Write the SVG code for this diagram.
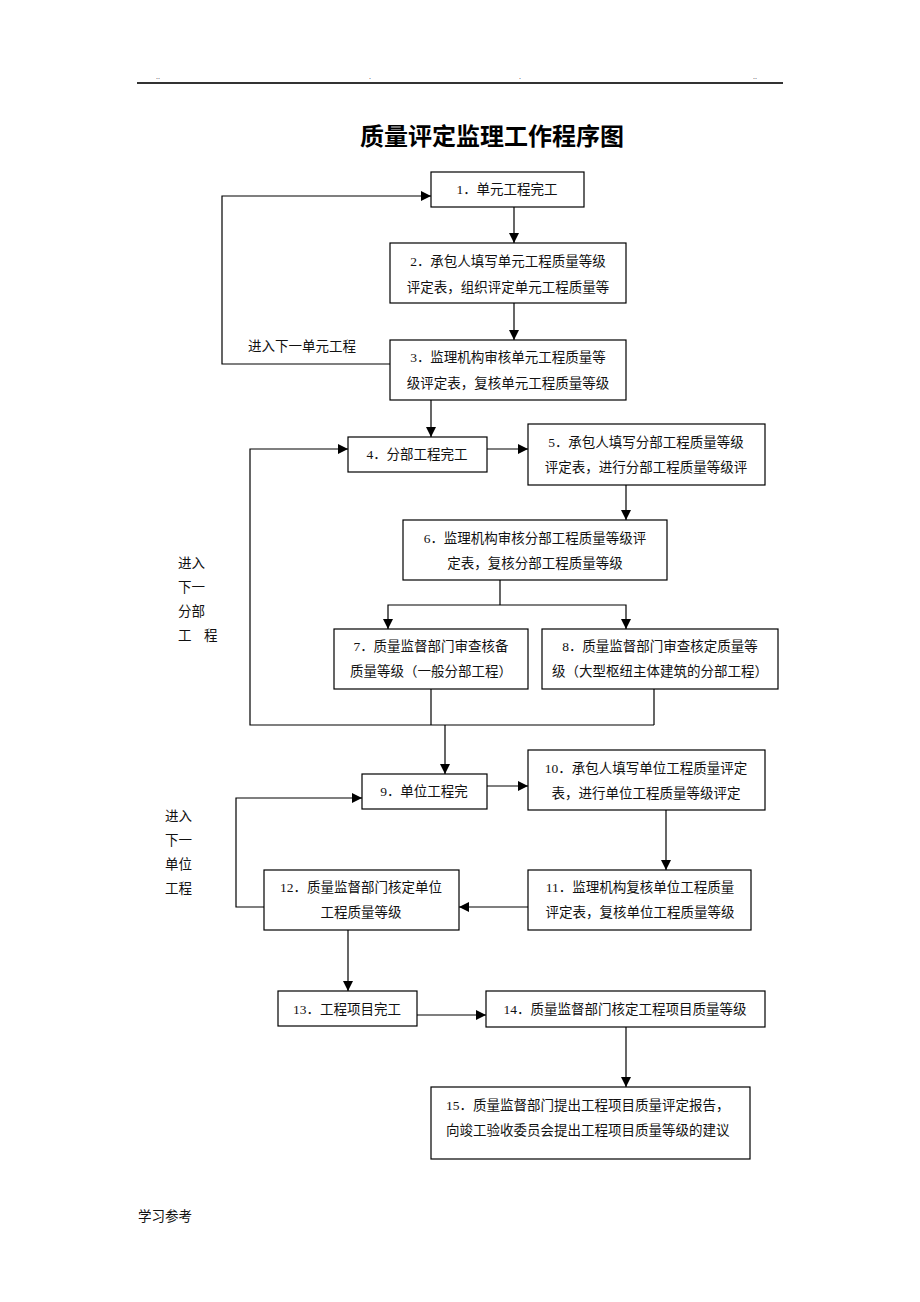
<svg xmlns="http://www.w3.org/2000/svg" width="920" height="1302" viewBox="0 0 920 1302">
<style>
.box{fill:#fff;stroke:#000;stroke-width:1.2}
.t{font-family:"Liberation Serif","Noto Sans CJK SC",serif;font-size:13.5px;fill:#111}
.c{text-anchor:middle}
.ln{fill:none;stroke:#000;stroke-width:1.2}
.ar{fill:none;stroke:#000;stroke-width:1.2;marker-end:url(#ah)}
.hd{font-family:"Liberation Serif",serif;font-size:8px;fill:#333}
</style>
<defs>
<marker id="ah" markerUnits="userSpaceOnUse" markerWidth="12" markerHeight="12" refX="10" refY="5" orient="auto">
<path d="M0,0 L10,5 L0,10 z" fill="#000"/>
</marker>
</defs>
<rect width="920" height="1302" fill="#fff"/>
<g id="header">
<line x1="137" y1="83" x2="783" y2="83" stroke="#333" stroke-width="2"/>
<text class="hd" x="156" y="79">..</text>
<text class="hd" x="369" y="79">.</text>
<text class="hd" x="519" y="79">.</text>
<text class="hd" x="753" y="79">..</text>
</g>
<text x="492" y="145" text-anchor="middle" font-family="'Noto Sans CJK SC',sans-serif" font-size="24" font-weight="bold" fill="#000">质量评定监理工作程序图</text>
<g id="connectors">
<line class="ar" x1="514" y1="207" x2="514" y2="243"/>
<line class="ar" x1="514" y1="303" x2="514" y2="340"/>
<polyline class="ar" points="390,364 222,364 222,196 431,196"/>
<line class="ar" x1="431" y1="400" x2="431" y2="437"/>
<line class="ar" x1="487" y1="449" x2="528" y2="449"/>
<line class="ar" x1="626" y1="485" x2="626" y2="520"/>
<line class="ln" x1="500" y1="580" x2="500" y2="605"/>
<polyline class="ar" points="500,605 388,605 388,629"/>
<polyline class="ar" points="500,605 626,605 626,629"/>
<line class="ln" x1="431" y1="689" x2="431" y2="725"/>
<line class="ln" x1="654" y1="689" x2="654" y2="725"/>
<polyline class="ar" points="654,725 250,725 250,449 348,449"/>
<line class="ar" x1="445" y1="725" x2="445" y2="774"/>
<line class="ar" x1="487" y1="786" x2="528" y2="786"/>
<line class="ar" x1="666" y1="810" x2="666" y2="870"/>
<line class="ar" x1="528" y1="907" x2="459" y2="907"/>
<polyline class="ar" points="264,907 236,907 236,798 362,798"/>
<line class="ar" x1="348" y1="930" x2="348" y2="991"/>
<line class="ar" x1="417" y1="1015" x2="486" y2="1015"/>
<line class="ar" x1="626" y1="1027" x2="626" y2="1087"/>
</g>
<g id="labels">
<text class="t" x="248" y="351">进入下一单元工程</text>
<text class="t" x="178" y="568">进入</text>
<text class="t" x="178" y="592">下一</text>
<text class="t" x="178" y="616">分部</text>
<text class="t" x="178" y="640">工</text>
<text class="t" x="204" y="640">程</text>
<text class="t" x="165" y="821">进入</text>
<text class="t" x="165" y="845">下一</text>
<text class="t" x="165" y="869">单位</text>
<text class="t" x="165" y="893">工程</text>
</g>
<g id="n1"><rect class="box" x="431" y="172" width="153" height="35"/><text class="t c" x="507" y="194">1．单元工程完工</text></g>
<g id="n2"><rect class="box" x="390" y="243" width="236" height="60"/><text class="t c" x="508" y="266">2．承包人填写单元工程质量等级</text><text class="t c" x="508" y="292">评定表，组织评定单元工程质量等</text></g>
<g id="n3"><rect class="box" x="390" y="340" width="236" height="60"/><text class="t c" x="508" y="362">3．监理机构审核单元工程质量等</text><text class="t c" x="508" y="388">级评定表，复核单元工程质量等级</text></g>
<g id="n4"><rect class="box" x="348" y="437" width="139" height="35"/><text class="t c" x="417" y="459">4．分部工程完工</text></g>
<g id="n5"><rect class="box" x="528" y="424" width="237" height="61"/><text class="t c" x="646" y="447">5．承包人填写分部工程质量等级</text><text class="t c" x="646" y="472">评定表，进行分部工程质量等级评</text></g>
<g id="n6"><rect class="box" x="403" y="520" width="264" height="60"/><text class="t c" x="535" y="543">6．监理机构审核分部工程质量等级评</text><text class="t c" x="535" y="568">定表，复核分部工程质量等级</text></g>
<g id="n7"><rect class="box" x="334" y="629" width="194" height="60"/><text class="t c" x="431" y="651">7．质量监督部门审查核备</text><text class="t c" x="431" y="676">质量等级（一般分部工程）</text></g>
<g id="n8"><rect class="box" x="542" y="629" width="236" height="60"/><text class="t c" x="660" y="651">8．质量监督部门审查核定质量等</text><text class="t c" x="660" y="676">级（大型枢纽主体建筑的分部工程）</text></g>
<g id="n9"><rect class="box" x="362" y="774" width="125" height="35"/><text class="t c" x="424" y="796">9．单位工程完</text></g>
<g id="n10"><rect class="box" x="528" y="750" width="237" height="60"/><text class="t c" x="646" y="773">10．承包人填写单位工程质量评定</text><text class="t c" x="646" y="798">表，进行单位工程质量等级评定</text></g>
<g id="n11"><rect class="box" x="528" y="870" width="223" height="60"/><text class="t c" x="640" y="892">11．监理机构复核单位工程质量</text><text class="t c" x="640" y="917">评定表，复核单位工程质量等级</text></g>
<g id="n12"><rect class="box" x="264" y="870" width="195" height="60"/><text class="t c" x="361" y="892">12．质量监督部门核定单位</text><text class="t c" x="361" y="917">工程质量等级</text></g>
<g id="n13"><rect class="box" x="278" y="991" width="139" height="35"/><text class="t c" x="347" y="1014">13．工程项目完工</text></g>
<g id="n14"><rect class="box" x="486" y="991" width="279" height="36"/><text class="t c" x="625" y="1014">14．质量监督部门核定工程项目质量等级</text></g>
<g id="n15"><rect class="box" x="431" y="1087" width="319" height="72"/><text class="t" x="446" y="1110">15．质量监督部门提出工程项目质量评定报告，</text><text class="t" x="446" y="1135">向竣工验收委员会提出工程项目质量等级的建议</text></g>
<text class="t" x="138" y="1221" fill="#333">学习参考</text>
</svg>
